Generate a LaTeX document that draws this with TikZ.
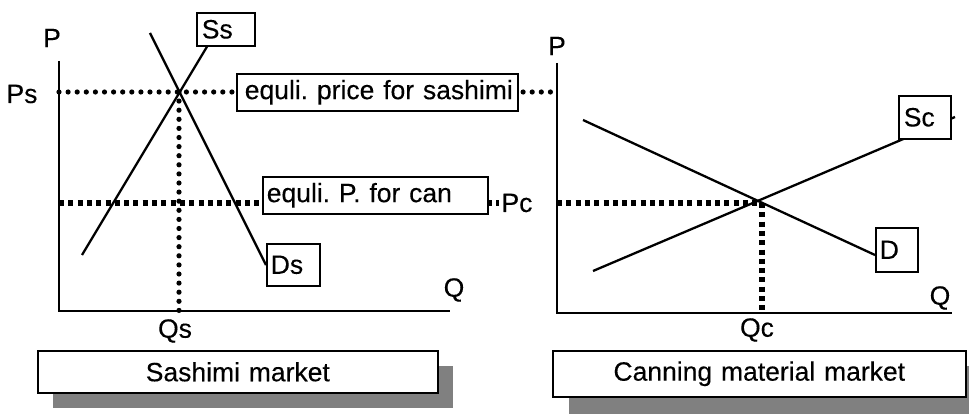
\documentclass[tikz,border=0pt]{standalone}
\usepackage{fontspec}
\setmainfont[FakeBold=0.25]{Liberation Sans}
\frenchspacing
\begin{document}
\begin{tikzpicture}[x=1pt,y=-1pt, line width=2pt,
  txt/.style={font=\fontsize{26.5}{30}\selectfont, inner sep=0pt},
  lbl/.style={draw, fill=white, line width=1.6pt, anchor=north west, align=left,
    inner xsep=0pt, inner ysep=0pt, font=\fontsize{26.5}{30}\selectfont},
  rdot/.style={line width=5.2pt, line cap=round, dash pattern=on 0pt off 9.1pt},
  sdash/.style={line width=6pt, line cap=butt, dash pattern=on 5pt off 4.3pt},
  shadowbox/.style={fill=black!50, draw=none},
  curve/.style={line width=2.3pt}]
\useasboundingbox (0,0) rectangle (969,414);

% shadows and market boxes
\fill[shadowbox] (53,366) rectangle (453,408);
\fill[shadowbox] (569,366) rectangle (969,414);
\node[lbl, minimum height=42pt, align=center, text width=400pt] (sm) at (37,350) {Sashimi market};
\node[lbl, minimum height=46pt, align=center, text width=413pt] (cm) at (552,350) {Canning material market};

% left axes
\coordinate (ly0) at (59,61);
\coordinate (lo) at (59,311);
\coordinate (lx1) at (450,311);
\draw (ly0) -- (lo) -- (lx1);
% right axes
\coordinate (ry0) at (557,63);
\coordinate (ro) at (557,313);
\coordinate (rx1) at (952,313);
\draw (ry0) -- (ro) -- (rx1);

% axis labels
\node[txt] (pl) at (52,38) {P};
\node[txt] (psl) at (22,94) {Ps};
\node[txt] (qsl) at (175,331) {Qs};
\node[txt] (ql) at (454,290) {Q};
\node[txt] (pcl) at (517,203) {Pc};
\node[txt] (pr) at (557,46) {P};
\node[txt] (qr) at (940,298) {Q};
\node[txt] (qcl) at (757,330) {Qc};

% left equilibrium
\coordinate (es) at (179,92);
\coordinate (qs) at (179,311);
\coordinate (psr) at (555,92);
\coordinate (psl0) at (59,92);
\draw[rdot] (psl0) -- (psr);
\draw[rdot] (es) -- (qs);
\coordinate (pcl0) at (59,203);
\coordinate (pcr0) at (499,203);
\draw[sdash] (pcl0) -- (pcr0);

% left curves
\coordinate (ds0) at (150,33);
\coordinate (ss0) at (82,255);
\draw[curve] (ds0) -- (266,265);
\draw[curve] (ss0) -- (208,45);

% right equilibrium
\coordinate (ec) at (758,203);
\coordinate (pcr) at (557,203);
\draw[sdash] (pcr) -- (ec);
\coordinate (qc0) at (762,203);
\coordinate (qc) at (762,313);
\draw[sdash] (qc0) -- (qc);

% right curves
\coordinate (d0) at (583,120);
\coordinate (d1) at (875,255);
\draw[curve] (d0) -- (d1);
\coordinate (sc0) at (593,271);
\coordinate (sc1) at (955,117);
\draw[curve] (sc0) -- (sc1);

% label boxes
\node[lbl, text width=58pt, minimum height=33pt] (ssb) at (196,12) {\hspace*{5pt}Ss};
\node[lbl, text width=53pt, minimum height=42pt] (dsb) at (266,243) {\hspace*{4pt}Ds};
\node[lbl, text width=281pt, minimum height=37pt] (pbox) at (236,73) {\hspace*{8pt}equli. price for sashimi};
\node[lbl, text width=225pt, minimum height=37pt] (cbox) at (262,176) {\hspace*{4pt}equli. P. for can};
\node[lbl, text width=52pt, minimum height=43pt] (scb) at (898,95) {\hspace*{5pt}Sc};
\node[lbl, text width=42pt, minimum height=44pt] (db) at (875,227) {\hspace*{4pt}D};
\end{tikzpicture}
\end{document}
